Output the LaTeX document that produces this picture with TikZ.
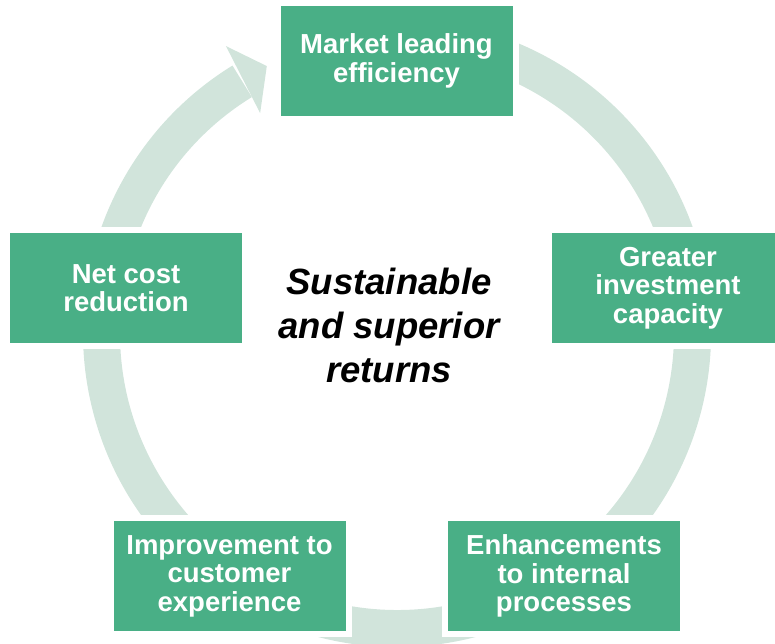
\documentclass[tikz,border=0pt]{standalone}
\usepackage{fontspec}
\setmainfont{Liberation Sans}
\usetikzlibrary{calc}
\definecolor{boxgreen}{RGB}{73,175,134}
\definecolor{ringgreen}{RGB}{209,228,219}
\tikzset{
  greenbox/.style={fill=boxgreen, text=white, align=center,
    font=\bfseries\fontsize{27.5}{28.5}\selectfont,
    minimum width=232pt, minimum height=110pt, inner sep=0pt,
    preaction={draw=white, line width=12pt}},
  ringfill/.style={fill=ringgreen},
  centertext/.style={align=center, text=black,
    font=\bfseries\itshape\fontsize{36.5}{44}\selectfont}
}
\begin{document}
\begin{tikzpicture}[x=1pt,y=1pt]
\useasboundingbox (0,0) rectangle (775,643);
\clip (0,0) rectangle (775,643);
\coordinate (C) at (397,310);
% ring body
\fill[ringfill] ([shift={(C)}]100:314) arc[start angle=100, end angle=-238.4, radius=314]
  -- ([shift={(C)}]121.6:277) arc[start angle=-238.4, end angle=100, radius=277] -- cycle;
% arrow head
\fill[ringfill] ([shift={(C)}]120.8:334) -- ([shift={(C)}]116:297) -- ([shift={(C)}]121.9:259) -- cycle;
% boxes
\node[greenbox] (top) at (396.5,582) {Market leading\\efficiency};
\node[greenbox] (left) at (126,355) {Net cost\\reduction};
\node[greenbox] (right) at (668,355) {Greater\\investment\\capacity};
\node[greenbox] (bl) at (229.5,67) {Improvement to\\customer\\experience};
\node[greenbox] (br) at (564,67) {Enhancements\\to internal\\processes};
\node[centertext] (mid) at (389,318) {Sustainable\\and superior\\returns};
\end{tikzpicture}
\end{document}
